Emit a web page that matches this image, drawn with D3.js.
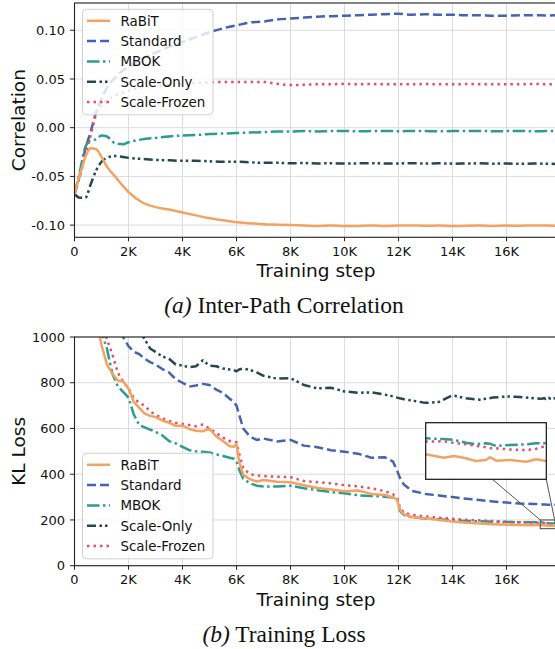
<!DOCTYPE html>
<html>
<head>
<meta charset="utf-8">
<script src="https://cdn.jsdelivr.net/npm/d3@7"></script>
<style>
body { margin: 0; background: #fff; }
svg { display: block; font-family: "DejaVu Sans", sans-serif; }
</style>
</head>
<body>
<div id="chart-area"></div>
<script>
// series and styling
var seriesNames = ["RaBiT", "Standard", "MBOK", "Scale-Only", "Scale-Frozen"];
var seriesColors = ["#f4a261", "#4563b0", "#2a9d8f", "#264653", "#e0506a"];
var seriesDash = [null, "9,4", "12.5,3.5,2.5,3.5", "9,3.5,2.5,3,2.5,3.5", "2.5,4"];
var drawOrder = [1, 2, 3, 4, 0];

var xTicks = [0, 2000, 4000, 6000, 8000, 10000, 12000, 14000, 16000];
var xTickLabels = ["0", "2K", "4K", "6K", "8K", "10K", "12K", "14K", "16K"];
var corrTicks = [-0.10, -0.05, 0.00, 0.05, 0.10];
var corrTickLabels = ["-0.10", "-0.05", "0.00", "0.05", "0.10"];
var lossTicks = [0, 200, 400, 600, 800, 1000];

// (a) inter-path correlation
var corrSteps = [0, 200, 400, 600, 800, 1000, 1200, 1500, 1800, 2000, 2500, 3000, 3500, 4000, 4500, 5000, 5500, 6000, 6500, 7000, 7500, 8000, 8500, 9000, 9500, 10000, 10500, 11000, 11500, 12000, 12500, 13000, 13500, 14000, 14500, 15000, 15500, 16000, 16500, 17000, 17500, 17900];
var corrRabit = [-0.068, -0.048, -0.030, -0.021, -0.022, -0.030, -0.040, -0.050, -0.060, -0.066, -0.0765, -0.0815, -0.084, -0.087, -0.090, -0.093, -0.095, -0.097, -0.098, -0.099, -0.0995, -0.1, -0.1005, -0.101, -0.1005, -0.101, -0.1008, -0.1005, -0.101, -0.1005, -0.1003, -0.1007, -0.1005, -0.101, -0.1006, -0.1004, -0.1008, -0.1005, -0.1006, -0.1004, -0.1005, -0.1007];
var corrStandard = [-0.068, -0.048, -0.022, -0.004, 0.016, 0.030, 0.041, 0.051, 0.059, 0.062, 0.071, 0.077, 0.083, 0.088, 0.093, 0.098, 0.102, 0.105, 0.108, 0.109, 0.111, 0.112, 0.113, 0.114, 0.1145, 0.115, 0.1155, 0.116, 0.1165, 0.117, 0.116, 0.1165, 0.116, 0.116, 0.1155, 0.1155, 0.115, 0.115, 0.1155, 0.1155, 0.1152, 0.1155];
var corrMbok = [-0.068, -0.045, -0.020, -0.013, -0.012, -0.008, -0.009, -0.016, -0.017, -0.015, -0.012, -0.0105, -0.009, -0.008, -0.0075, -0.0065, -0.006, -0.0055, -0.005, -0.0045, -0.004, -0.004, -0.0035, -0.0038, -0.0035, -0.0034, -0.0037, -0.0035, -0.0033, -0.0036, -0.0034, -0.0035, -0.0037, -0.0034, -0.0035, -0.0033, -0.0036, -0.0035, -0.0034, -0.0036, -0.0035, -0.0035];
var corrScaleOnly = [-0.068, -0.072, -0.072, -0.058, -0.044, -0.035, -0.031, -0.029, -0.030, -0.031, -0.032, -0.033, -0.0335, -0.034, -0.034, -0.0345, -0.035, -0.035, -0.0355, -0.036, -0.036, -0.0365, -0.0363, -0.0367, -0.0365, -0.0368, -0.0366, -0.0364, -0.0368, -0.0367, -0.0365, -0.0368, -0.0366, -0.0369, -0.0367, -0.0366, -0.0369, -0.0368, -0.037, -0.0368, -0.037, -0.0372];
var corrScaleFrozen = [-0.068, -0.050, -0.028, -0.008, 0.014, 0.023, 0.028, 0.033, 0.036, 0.038, 0.0415, 0.043, 0.0438, 0.045, 0.046, 0.0465, 0.047, 0.047, 0.047, 0.047, 0.045, 0.0438, 0.044, 0.0445, 0.0445, 0.045, 0.0445, 0.0448, 0.0445, 0.0447, 0.0445, 0.0448, 0.0446, 0.0445, 0.0448, 0.0446, 0.0445, 0.0447, 0.0446, 0.0448, 0.0446, 0.0447];

// (b) training loss
var lossSteps = [0, 500, 800, 1000, 1200, 1400, 1600, 1800, 2000, 2200, 2400, 2600, 2800, 3000, 3250, 3500, 3750, 4000, 4250, 4500, 4750, 5000, 5250, 5500, 5750, 5900, 6000, 6100, 6250, 6500, 6750, 7000, 7500, 8000, 8500, 9000, 9500, 10000, 10500, 11000, 11500, 11800, 11950, 12050, 12200, 12500, 13000, 13500, 14000, 14500, 15000, 15500, 16000, 16500, 17000, 17250, 17340, 17390, 17450, 17500, 17550, 17570, 17600, 17670, 17750, 17800, 17850, 17900];
var lossRabit = [2200, 1400, 1080, 965, 880, 840, 810, 805, 775, 715, 690, 665, 655, 650, 635, 625, 612, 612, 598, 590, 588, 598, 565, 545, 522, 520, 530, 455, 397, 378, 368, 375, 367, 365, 352, 340, 333, 326, 329, 314, 309, 298, 290, 244, 225, 212, 208, 200, 193, 188, 184, 181, 179, 177.5, 177, 178.8, 176.5, 177.6, 176.1, 174.3, 175, 176.8, 174.5, 175, 173.8, 175.4, 174.3, 174.5];
var lossStandard = [2600, 1800, 1500, 1350, 1200, 1120, 1060, 1000, 960, 935, 925, 905, 890, 880, 860, 845, 815, 800, 783, 788, 795, 790, 770, 755, 730, 715, 700, 660, 600, 565, 550, 556, 543, 550, 525, 518, 505, 498, 490, 472, 474, 455, 415, 385, 355, 327, 314, 307, 300, 293, 287, 281, 276, 272, 270, 269, 268, 268, 268, 267, 267, 267, 267, 266, 266, 266, 265, 265];
var lossMbok = [2000, 1250, 1100, 1020, 950, 840, 785, 760, 735, 660, 615, 605, 595, 585, 570, 545, 535, 520, 505, 500, 498, 495, 487, 480, 472, 468, 455, 420, 380, 360, 350, 346, 346, 350, 339, 330, 322, 317, 308, 305, 302, 298, 292, 240, 222, 212, 206, 203, 199, 196, 194, 192, 191, 190, 189.5, 189.5, 189, 188.4, 186.6, 185.5, 186.2, 185.8, 184.4, 185, 185.5, 186.2, 186.2, 186];
var lossScaleOnly = [3000, 2000, 1700, 1500, 1350, 1250, 1170, 1110, 1070, 1045, 1030, 990, 950, 935, 915, 905, 880, 875, 868, 872, 898, 875, 872, 862, 858, 855, 850, 858, 862, 856, 845, 830, 818, 820, 790, 775, 778, 762, 756, 758, 748, 740, 735, 732, 728, 722, 712, 716, 745, 732, 726, 735, 740, 738, 732, 730, 731, 733, 729, 732, 730, 734, 731, 729, 733, 731, 732, 730];
var lossScaleFrozen = [2300, 1500, 1200, 1060, 990, 925, 845, 805, 775, 732, 712, 700, 675, 660, 645, 633, 625, 620, 615, 610, 617, 600, 580, 560, 545, 542, 540, 490, 425, 400, 395, 392, 389, 387, 370, 365, 360, 352, 347, 338, 326, 312, 300, 255, 232, 222, 215, 210, 205, 201, 198, 195, 192, 190, 188.5, 187.3, 187.5, 186.5, 185.5, 184.5, 183.5, 183, 182.8, 182, 181.6, 182.5, 184.5, 184];

var insetX = [17250, 17850];
var insetY = [162, 200];

var corrSeries = [corrRabit, corrStandard, corrMbok, corrScaleOnly, corrScaleFrozen];
var lossSeries = [lossRabit, lossStandard, lossMbok, lossScaleOnly, lossScaleFrozen];

var svg = d3.select("#chart-area").append("svg")
    .attr("width", 555)
    .attr("height", 649);

var x = d3.scaleLinear().domain([0, 17900]).range([74.5, 557.8]);

function drawPanel(id, yScale, yTicks, yTickLabels, series, steps, curve, yLabel, captionTag, captionText, legendTop) {
    var top = yScale.range()[1], bottom = yScale.range()[0];
    var g = svg.append("g");

    g.append("clipPath").attr("id", "clip-" + id)
        .append("rect")
        .attr("x", x.range()[0]).attr("y", top)
        .attr("width", x.range()[1] - x.range()[0]).attr("height", bottom - top);

    // grid
    g.selectAll(".vgrid").data(xTicks).enter().append("line")
        .attr("x1", function (d) { return x(d); }).attr("x2", function (d) { return x(d); })
        .attr("y1", top).attr("y2", bottom)
        .attr("stroke", "#dcdcdc").attr("stroke-width", 1);
    g.selectAll(".hgrid").data(yTicks).enter().append("line")
        .attr("x1", x.range()[0]).attr("x2", x.range()[1])
        .attr("y1", function (d) { return yScale(d); }).attr("y2", function (d) { return yScale(d); })
        .attr("stroke", "#dcdcdc").attr("stroke-width", 1);

    // lines
    var lines = g.append("g").attr("clip-path", "url(#clip-" + id + ")");
    drawOrder.forEach(function (i) {
        var line = d3.line()
            .x(function (d, j) { return x(steps[j]); })
            .y(function (d) { return yScale(d); })
            .curve(curve);
        lines.append("path")
            .attr("d", line(series[i]))
            .attr("fill", "none")
            .attr("stroke", seriesColors[i])
            .attr("stroke-width", 2.5)
            .attr("stroke-dasharray", seriesDash[i])
            .attr("stroke-linejoin", "round");
    });

    // frame
    g.append("rect")
        .attr("x", x.range()[0]).attr("y", top)
        .attr("width", x.range()[1] - x.range()[0]).attr("height", bottom - top)
        .attr("fill", "none").attr("stroke", "#222").attr("stroke-width", 1.1);

    // x ticks
    g.selectAll(".xt").data(xTicks).enter().append("line")
        .attr("x1", function (d) { return x(d); }).attr("x2", function (d) { return x(d); })
        .attr("y1", bottom).attr("y2", bottom + 4)
        .attr("stroke", "#222");
    g.selectAll(".xl").data(xTicks).enter().append("text")
        .attr("x", function (d) { return x(d); })
        .attr("y", bottom + 18.5)
        .attr("text-anchor", "middle")
        .attr("font-size", 13)
        .attr("fill", "#111")
        .text(function (d, i) { return xTickLabels[i]; });

    // y ticks
    g.selectAll(".yt").data(yTicks).enter().append("line")
        .attr("x1", x.range()[0] - 4.5).attr("x2", x.range()[0])
        .attr("y1", function (d) { return yScale(d); }).attr("y2", function (d) { return yScale(d); })
        .attr("stroke", "#222");
    g.selectAll(".yl").data(yTicks).enter().append("text")
        .attr("x", x.range()[0] - 9.5)
        .attr("y", function (d) { return yScale(d); })
        .attr("dy", "0.36em")
        .attr("text-anchor", "end")
        .attr("font-size", 13)
        .attr("fill", "#111")
        .text(function (d, i) { return yTickLabels[i]; });

    // axis labels
    g.append("text")
        .attr("x", 316).attr("y", bottom + 40)
        .attr("text-anchor", "middle")
        .attr("font-size", 18.5)
        .attr("fill", "#111")
        .text("Training step");
    g.append("text")
        .attr("transform", "translate(25," + ((top + bottom) / 2) + ") rotate(-90)")
        .attr("text-anchor", "middle")
        .attr("font-size", 18.5)
        .attr("fill", "#111")
        .text(yLabel);

    // caption
    var cap = g.append("text")
        .attr("x", 284).attr("y", bottom + 76)
        .attr("text-anchor", "middle")
        .attr("font-family", "'Liberation Serif', 'DejaVu Serif', serif")
        .attr("font-size", 23.5)
        .attr("fill", "#111");
    cap.append("tspan").attr("font-style", "italic").text(captionTag);
    cap.append("tspan").text(" " + captionText);

    // legend
    var lg = g.append("g").attr("transform", "translate(82.5," + legendTop + ")");
    lg.append("rect")
        .attr("width", 130.5).attr("height", 105.5)
        .attr("rx", 4)
        .attr("fill", "#fff").attr("fill-opacity", 0.8)
        .attr("stroke", "#d0d0d0");
    seriesNames.forEach(function (name, i) {
        var yy = 11.5 + i * 20.3;
        lg.append("line")
            .attr("x1", 4.5).attr("x2", 27.5)
            .attr("y1", yy).attr("y2", yy)
            .attr("stroke", seriesColors[i])
            .attr("stroke-width", 2.5)
            .attr("stroke-dasharray", seriesDash[i]);
        lg.append("text")
            .attr("x", 38).attr("y", yy)
            .attr("dy", "0.36em")
            .attr("font-size", 13.4)
            .attr("fill", "#111")
            .text(name);
    });
    return g;
}

var yCorr = d3.scaleLinear().domain([-0.1125, 0.128]).range([237.3, 3]);
drawPanel("corr", yCorr, corrTicks, corrTickLabels, corrSeries, corrSteps, d3.curveMonotoneX,
    "Correlation", "(a)", "Inter-Path Correlation", 9.3);

var yLoss = d3.scaleLinear().domain([0, 1000]).range([565.7, 337]);
var lossPanel = drawPanel("loss", yLoss, lossTicks, lossTicks.map(String), lossSeries, lossSteps, d3.curveLinear,
    "KL Loss", "(b)", "Training Loss", 453.3);

// zoom inset
var ix = d3.scaleLinear().domain(insetX).range([425.7, 546.3]);
var iy = d3.scaleLinear().domain(insetY).range([479.3, 422.7]);

lossPanel.append("rect")
    .attr("x", x(insetX[0])).attr("y", yLoss(insetY[1]))
    .attr("width", x(insetX[1]) - x(insetX[0]))
    .attr("height", yLoss(insetY[0]) - yLoss(insetY[1]))
    .attr("fill", "none").attr("stroke", "#555").attr("stroke-width", 1.1);
lossPanel.append("line")
    .attr("x1", ix.range()[0]).attr("y1", iy.range()[1])
    .attr("x2", x(insetX[0])).attr("y2", yLoss(insetY[1]))
    .attr("stroke", "#555").attr("stroke-width", 1);
lossPanel.append("line")
    .attr("x1", ix.range()[1]).attr("y1", iy.range()[0])
    .attr("x2", x(insetX[1])).attr("y2", yLoss(insetY[0]))
    .attr("stroke", "#555").attr("stroke-width", 1);

var inset = lossPanel.append("g");
inset.append("clipPath").attr("id", "clip-inset")
    .append("rect")
    .attr("x", ix.range()[0]).attr("y", iy.range()[1])
    .attr("width", ix.range()[1] - ix.range()[0]).attr("height", iy.range()[0] - iy.range()[1]);
inset.append("rect")
    .attr("x", ix.range()[0]).attr("y", iy.range()[1])
    .attr("width", ix.range()[1] - ix.range()[0]).attr("height", iy.range()[0] - iy.range()[1])
    .attr("fill", "#fff");
var insetLines = inset.append("g").attr("clip-path", "url(#clip-inset)");
drawOrder.forEach(function (i) {
    var line = d3.line()
        .x(function (d, j) { return ix(lossSteps[j]); })
        .y(function (d) { return iy(d); });
    insetLines.append("path")
        .attr("d", line(lossSeries[i]))
        .attr("fill", "none")
        .attr("stroke", seriesColors[i])
        .attr("stroke-width", 2.5)
        .attr("stroke-dasharray", seriesDash[i])
        .attr("stroke-linejoin", "round");
});
inset.append("rect")
    .attr("x", ix.range()[0]).attr("y", iy.range()[1])
    .attr("width", ix.range()[1] - ix.range()[0]).attr("height", iy.range()[0] - iy.range()[1])
    .attr("fill", "none").attr("stroke", "#111").attr("stroke-width", 1.2);
</script>
</body>
</html>
